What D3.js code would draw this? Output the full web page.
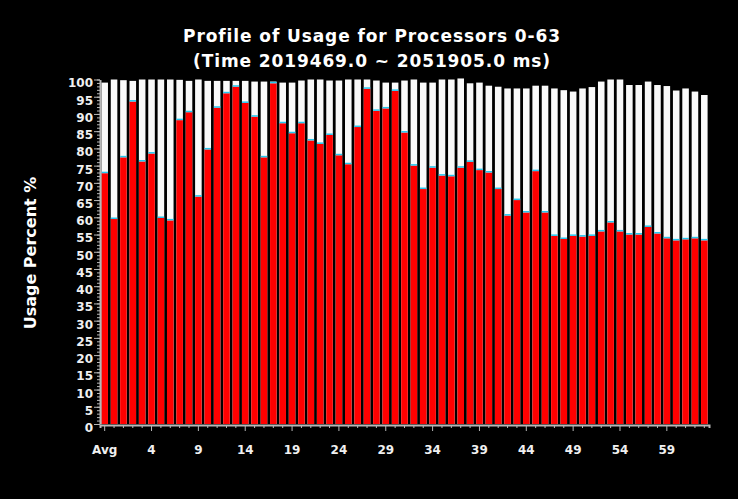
<!DOCTYPE html>
<html>
<head>
<meta charset="utf-8">
<script src="https://cdn.jsdelivr.net/npm/d3@7"></script>
<style>
  body { margin: 0; background: #000; }
  svg { display: block; }
  .axis path, .axis line { stroke: #b8b8b8; }
  .axis text { fill: #f0f0f0; font-family: 'DejaVu Sans', sans-serif; font-weight: bold; font-size: 12px; }
</style>
</head>
<body>
<div id="chart"></div>
<script>
const titleLines = ['Profile of Usage for Processors 0-63', '(Time 2019469.0 ~ 2051905.0 ms)']
const yTitle = 'Usage Percent %'

// Avg bar first, then processors 0..63
const categories = ['Avg'].concat(d3.range(64).map(String))
const tickLabels = ['Avg', '4', '9', '14', '19', '24', '29', '34', '39', '44', '49', '54', '59']

// red part (usage %)
const usage = [72.8, 59.5, 77.4, 93.6, 76.2, 78.5, 59.8, 59.1, 88.2, 90.5,
  66.0, 79.7, 91.8, 96.0, 97.9, 93.2, 89.2, 77.4, 98.9, 87.3,
  84.4, 87.3, 82.3, 81.3, 83.9, 78.0, 75.4, 86.2, 97.3, 90.9,
  91.6, 96.7, 84.6, 75.0, 68.2, 74.4, 72.1, 71.9, 74.4, 76.1,
  73.7, 73.0, 68.2, 60.5, 65.0, 61.4, 73.4, 61.4, 54.6, 53.7,
  54.6, 54.4, 54.6, 55.9, 58.5, 55.9, 55.0, 55.0, 57.2, 55.3,
  53.9, 53.3, 53.6, 53.9, 53.3]

// top of the white (idle) part
const total = [99.1, 100, 99.8, 99.6, 100, 100, 100, 100, 99.9, 99.6,
  100, 99.6, 99.6, 99.6, 99.6, 99.6, 99.4, 99.4, 99.4, 99.1,
  99.1, 99.7, 100, 100, 99.7, 99.7, 100, 100, 100, 99.7,
  99.1, 99.1, 99.7, 100, 99.1, 99.1, 100, 100, 100.3, 98.9,
  99.1, 98.2, 97.9, 97.4, 97.4, 97.4, 98.2, 98.2, 97.4, 96.9,
  96.5, 97.4, 97.8, 99.4, 100, 100, 98.4, 98.4, 99.4, 98.4,
  98.1, 96.8, 97.4, 96.5, 95.5]

const width = 738
const height = 499
const plotLeft = 100, plotRight = 709, plotTop = 79.5, plotBottom = 424

const data = categories.map((c, i) => ({ name: c, usage: usage[i], total: total[i] }))

const svg = d3.select('#chart')
  .append('svg')
    .attr('width', width)
    .attr('height', height)
    .style('background', '#000')

const xScale = d3.scaleBand()
  .domain(categories)
  .range([plotLeft, plotRight])
  .paddingInner(0.3)
  .paddingOuter(0.15)

const yScale = d3.scaleLinear()
  .domain([0, 100])
  .range([plotBottom, plotTop])

// title
svg.selectAll('.title')
  .data(titleLines).enter()
  .append('text')
    .attr('class', 'title')
    .text(d => d)
    .attr('x', 372)
    .attr('y', (d, i) => 42 + i * 25)
    .attr('text-anchor', 'middle')
    .attr('fill', '#fff')
    .attr('font-family', 'DejaVu Sans, sans-serif')
    .attr('font-weight', 'bold')
    .attr('font-size', '17px')
    .attr('letter-spacing', '0.9px')

svg.append('text')
  .text(yTitle)
  .attr('transform', `translate(36, 253)rotate(-90)`)
  .attr('text-anchor', 'middle')
  .attr('fill', '#fff')
  .attr('font-family', 'DejaVu Sans, sans-serif')
  .attr('font-weight', 'bold')
  .attr('font-size', '16px')

// bars: white idle, red usage, cyan cap
const bars = svg.append('g').attr('class', 'bars')
  .selectAll('g')
  .data(data).enter()
  .append('g')

bars.append('rect')
  .attr('x', d => xScale(d.name))
  .attr('y', d => yScale(d.total))
  .attr('width', xScale.bandwidth())
  .attr('height', d => yScale(0) - yScale(d.total))
  .attr('fill', '#fafafa')

bars.append('rect')
  .attr('x', d => xScale(d.name))
  .attr('y', d => yScale(d.usage))
  .attr('width', xScale.bandwidth())
  .attr('height', d => yScale(0) - yScale(d.usage))
  .attr('fill', '#ff0000')

bars.append('rect')
  .attr('x', d => xScale(d.name))
  .attr('y', d => yScale(d.usage) - 1.5)
  .attr('width', xScale.bandwidth())
  .attr('height', 1.5)
  .attr('fill', '#22c8f0')

// y axis: minor ticks every 1, labelled every 5
svg.append('g')
  .attr('class', 'axis')
  .attr('transform', `translate(${plotLeft}, 0)`)
  .call(d3.axisLeft(yScale).tickValues(d3.range(0, 101, 1)).tickSize(3).tickFormat(''))
  .call(g => g.select('.domain').remove())

svg.append('g')
  .attr('class', 'axis')
  .attr('transform', `translate(${plotLeft}, 0)`)
  .call(d3.axisLeft(yScale).tickValues(d3.range(0, 101, 5)).tickSize(6).tickPadding(1).tickSizeOuter(0))
  .call(g => g.selectAll('.tick text').attr('dy', '0.62em'))
  .call(g => g.select('.domain').attr('stroke-width', 2))

// x axis: tick on every bar, longer where labelled
svg.append('g')
  .attr('class', 'axis')
  .attr('transform', `translate(0, ${plotBottom + 1})`)
  .call(d3.axisBottom(xScale).tickSizeOuter(0).tickSize(3).tickPadding(17)
    .tickFormat(d => tickLabels.includes(d) ? d : ''))
  .call(g => g.selectAll('.tick line').attr('y2', d => tickLabels.includes(d) ? 6 : 3))
  .call(g => g.select('.domain').attr('stroke-width', 2))
</script>
</body>
</html>
